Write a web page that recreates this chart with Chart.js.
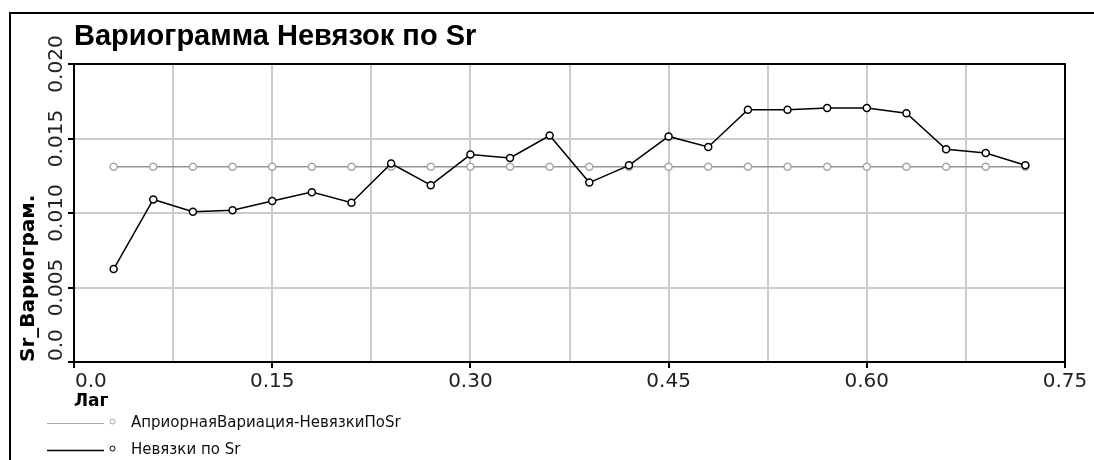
<!DOCTYPE html>
<html><head><meta charset="utf-8">
<script src="https://cdn.jsdelivr.net/npm/chart.js@4"></script>
<style>html,body{margin:0;padding:0;background:#fff}canvas{display:block}</style>
</head><body>
<canvas id="c" width="1094" height="460"></canvas>
<script>
const chartTitle = 'Вариограмма Невязок по Sr';
const xAxisTitle = 'Лаг';
const yAxisTitle = 'Sr_Вариограм.';
const seriesNames = ['АприорнаяВариация-НевязкиПоSr', 'Невязки по Sr'];

const lags = [0.03, 0.06, 0.09, 0.12, 0.15, 0.18, 0.21, 0.24, 0.27, 0.30, 0.33, 0.36,
              0.39, 0.42, 0.45, 0.48, 0.51, 0.54, 0.57, 0.60, 0.63, 0.66, 0.69, 0.72];
const priorVariance = [0.0131, 0.0131, 0.0131, 0.0131, 0.0131, 0.0131, 0.0131, 0.0131,
                       0.0131, 0.0131, 0.0131, 0.0131, 0.0131, 0.0131, 0.0131, 0.0131,
                       0.0131, 0.0131, 0.0131, 0.0131, 0.0131, 0.0131, 0.0131, 0.0131];
const residualVariogram = [0.00624, 0.01091, 0.01008, 0.01019, 0.01080, 0.01140, 0.01069, 0.01332,
                           0.01187, 0.01392, 0.01369, 0.01520, 0.01204, 0.01320, 0.01514, 0.01443,
                           0.01693, 0.01693, 0.01704, 0.01704, 0.01669, 0.01428, 0.01403, 0.01320];

const xTickValues = [0, 0.15, 0.30, 0.45, 0.60, 0.75];
const xTickLabels = ['0.0', '0.15', '0.30', '0.45', '0.60', '0.75'];
const yTickValues = [0, 0.005, 0.010, 0.015, 0.020];
const yTickLabels = ['0.0', '0.005', '0.010', '0.015', '0.020'];

const toXY = (xs, ys) => xs.map((x, i) => ({x: x, y: ys[i]}));

const decor = {
  id: 'decor',
  afterDraw(chart) {
    const ctx = chart.ctx;
    const ca = chart.chartArea;
    const xs = chart.scales.x, ys = chart.scales.y;
    ctx.save();
    // plot frame top & right
    ctx.fillStyle = '#000';
    ctx.fillRect(ca.left - 1, ca.top - 1, ca.right - ca.left + 2, 2);
    ctx.fillRect(ca.right - 1, ca.top - 1, 2, ca.bottom - ca.top + 2);
    // outer border
    ctx.fillRect(9, 12, chart.width, 2);
    ctx.fillRect(9, 12, 2, chart.height);
    // title
    ctx.fillStyle = '#000';
    ctx.font = 'bold 29px "Liberation Sans", Arial, sans-serif';
    ctx.textAlign = 'left';
    ctx.textBaseline = 'alphabetic';
    ctx.fillText(chartTitle, ca.left, 45);
    // x tick labels
    ctx.font = '20px "DejaVu Sans", sans-serif';
    ctx.fillStyle = '#222';
    xTickValues.forEach((v, i) => {
      const px = xs.getPixelForValue(v);
      const w = ctx.measureText(xTickLabels[i]).width;
      let left = px - w / 2;
      if (left < ca.left + 1) left = ca.left + 1;
      ctx.textAlign = 'left';
      ctx.fillText(xTickLabels[i], left, 387);
    });
    // y tick labels (rotated)
    yTickValues.forEach((v, i) => {
      const py = ys.getPixelForValue(v);
      const w = ctx.measureText(yTickLabels[i]).width;
      let start = py + w / 2;
      if (start > ca.bottom - 1) start = ca.bottom - 1;
      ctx.save();
      ctx.translate(62, start);
      ctx.rotate(-Math.PI / 2);
      ctx.textAlign = 'left';
      ctx.fillText(yTickLabels[i], 0, 0);
      ctx.restore();
    });
    // legend
    const rows = [
      {y: 423, line: '#a8a8a8', lw: 1, mark: '#a0a0a0', text: seriesNames[0]},
      {y: 450, line: '#000', lw: 1.5, mark: '#000', text: seriesNames[1]}
    ];
    ctx.font = '15px "DejaVu Sans", sans-serif';
    rows.forEach(r => {
      ctx.strokeStyle = r.line;
      ctx.lineWidth = r.lw;
      ctx.beginPath();
      ctx.moveTo(47, r.y + 0.5);
      ctx.lineTo(104, r.y + 0.5);
      ctx.stroke();
      ctx.beginPath();
      ctx.strokeStyle = r.mark;
      ctx.lineWidth = 1;
      ctx.fillStyle = '#fff';
      ctx.arc(112.5, r.y - 1.5, 2.5, 0, Math.PI * 2);
      ctx.fill();
      ctx.stroke();
      ctx.fillStyle = '#111';
      ctx.textAlign = 'left';
      ctx.textBaseline = 'middle';
      ctx.fillText(r.text, 131, r.y);
    });
    ctx.restore();
  }
};

new Chart(document.getElementById('c'), {
  type: 'scatter',
  data: {
    datasets: [
      {
        label: seriesNames[1],
        data: toXY(lags, residualVariogram),
        showLine: true,
        borderColor: '#000',
        borderWidth: 1.5,
        pointRadius: 3.5,
        pointBorderWidth: 1.5,
        pointBorderColor: '#000',
        pointBackgroundColor: '#fff',
        tension: 0
      },
      {
        label: seriesNames[0],
        data: toXY(lags, priorVariance),
        showLine: true,
        borderColor: '#959595',
        borderWidth: 1.5,
        pointRadius: 3.5,
        pointBorderWidth: 1.5,
        pointBorderColor: '#a8a8a8',
        pointBackgroundColor: '#fff',
        tension: 0
      }
    ]
  },
  options: {
    responsive: false,
    animation: false,
    devicePixelRatio: 1,
    layout: {padding: {left: 0, right: 29, top: 64, bottom: 0}},
    plugins: {legend: {display: false}, title: {display: false}, tooltip: {enabled: false}},
    scales: {
      x: {
        type: 'linear',
        min: 0, max: 0.75,
        ticks: {display: false, stepSize: 0.075},
        grid: {
          color: '#cccccc', lineWidth: 2,
          drawTicks: true, tickLength: 6, tickWidth: 2,
          tickColor: (c) => (c.index % 2 === 0 ? '#000' : 'rgba(0,0,0,0)')
        },
        border: {display: true, color: '#000', width: 2},
        title: {
          display: true, text: xAxisTitle, align: 'start', color: '#000',
          font: {family: '"DejaVu Sans", sans-serif', size: 17, weight: 'bold'},
          padding: {top: 0, bottom: 48}
        },
        afterFit: (s) => { s.height = 98; }
      },
      y: {
        type: 'linear',
        min: 0, max: 0.02,
        ticks: {display: false, stepSize: 0.005},
        grid: {
          color: '#cccccc', lineWidth: 2,
          drawTicks: true, tickLength: 6, tickWidth: 2, tickColor: '#000'
        },
        border: {display: true, color: '#000', width: 2},
        title: {
          display: true, text: yAxisTitle, align: 'start', color: '#000',
          font: {family: '"DejaVu Sans", sans-serif', size: 20, weight: 'bold'},
          padding: {top: 17, bottom: 0}
        },
        afterFit: (s) => { s.width = 74; }
      }
    }
  },
  plugins: [decor]
});
</script>
</body></html>
